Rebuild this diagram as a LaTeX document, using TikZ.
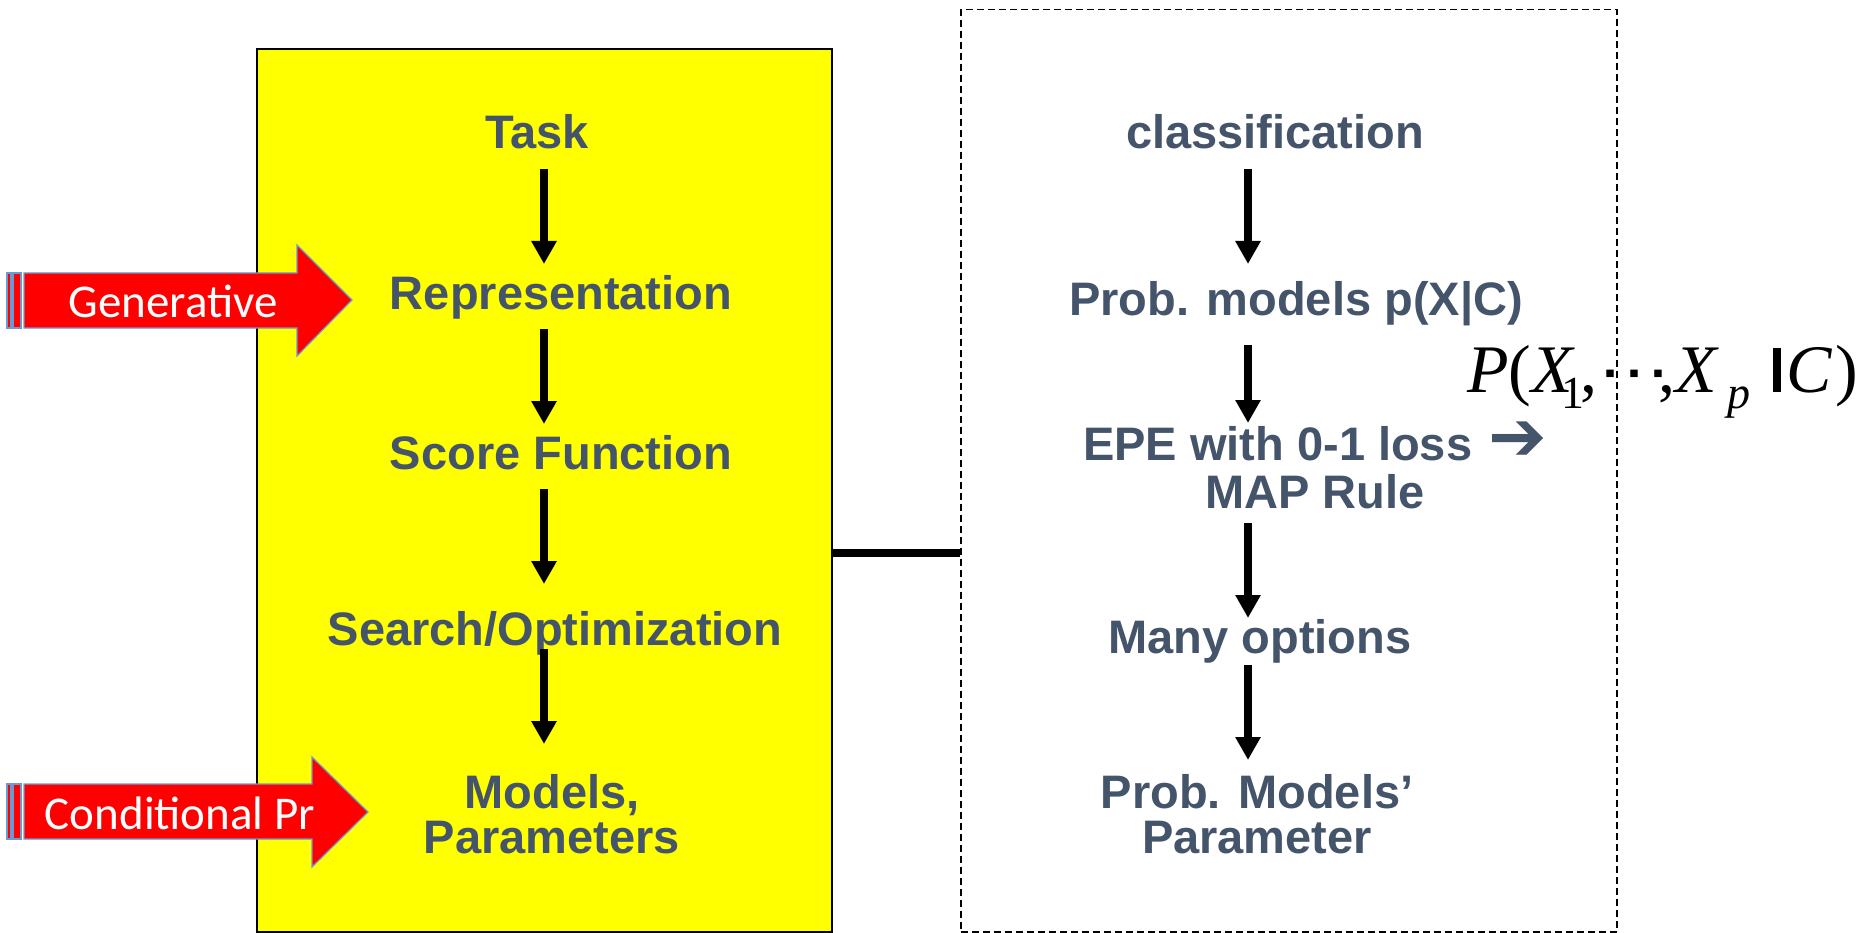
\documentclass[tikz,border=0pt]{standalone}
\usepackage{fontspec}
\setmainfont{Liberation Sans}
\newfontfamily\calfont{Carlito}
\newfontfamily\serfont{Liberation Serif}
\newfontfamily\djfont{DejaVu Sans}
\usetikzlibrary{arrows.meta,calc}
\definecolor{txt}{HTML}{44546A}
\definecolor{arrblue}{HTML}{6A9AD4}
\definecolor{ybg}{RGB}{255,255,0}
\definecolor{rbg}{RGB}{255,0,0}
\begin{document}
\begin{tikzpicture}[x=1pt,y=-1pt,
  lbl/.style={font=\fontsize{47}{45}\selectfont\bfseries, text=txt, inner sep=0pt, anchor=base},
  dn/.style={line width=8pt, -{Triangle[width=24pt,length=23pt]}},
  redarr/.style={fill=rbg, draw=arrblue, line width=1.2pt, line join=miter},
  alab/.style={font=\calfont\fontsize{47}{47}\selectfont, text=white, inner sep=0pt, anchor=base}]
\useasboundingbox (0,0) rectangle (1876,933);

% boxes
\node[draw=black, line width=2pt, fill=ybg, minimum width=575pt, minimum height=883pt,
      anchor=north west, inner sep=0pt] (ybox) at (256,48) {};
\node[draw=black, line width=1.5pt, dash pattern=on 7pt off 4pt, minimum width=656pt,
      minimum height=922pt, anchor=north west, inner sep=0pt] (dbox) at (960,9) {};
\coordinate (jn) at (831,553);
\draw[line width=8pt] (ybox.east |- jn) -- (dbox.west |- jn);

% left column
\node[lbl] (task) at (537,149) {Task};
\node[lbl] (rep) at (561,309) {Representation};
\node[lbl] (score) at (561,469) {Score Function};
\node[lbl] (search) at (555,645) {Search/Optimization};
\node[lbl] (models) at (552,808) {\begin{tabular}[t]{@{}c@{}}Models,\\Parameters\end{tabular}};

\coordinate (ax) at (544,0);
\draw[dn] ($(task.base -| ax)+(0,20)$) -- ($(rep.base -| ax)+(0,-45)$);
\draw[dn] ($(rep.base -| ax)+(0,20)$) -- ($(score.base -| ax)+(0,-45)$);
\draw[dn] ($(score.base -| ax)+(0,20)$) -- ($(search.base -| ax)+(0,-61)$);
\draw[dn] ($(search.base -| ax)+(0,4)$) -- ($(models.base -| ax)+(0,-64)$);

% right column
\node[lbl] (cls) at (1275,149) {classification};
\node[lbl] (prob) at (1296,316) {Prob. models p(X|C)};
\node[lbl] (epe) at (1315,460) {\begin{tabular}[t]{@{}c@{}}EPE with 0-1 loss\kern16pt\raisebox{0pt}[0pt][0pt]{\djfont\fontsize{70}{70}\selectfont ➔}\\[1pt]MAP Rule\end{tabular}};
\node[lbl] (many) at (1260,653) {Many options};
\node[lbl] (pmp) at (1257,808) {\begin{tabular}[t]{@{}c@{}}Prob. Models’\\Parameter\end{tabular}};

\coordinate (bx) at (1248,0);
\draw[dn] ($(cls.base -| bx)+(0,20)$) -- ($(prob.base -| bx)+(0,-52)$);
\draw[dn] ($(prob.base -| bx)+(0,29)$) -- ($(epe.base -| bx)+(0,-37)$);
\draw[dn] ($(epe.base -| bx)+(0,63)$) -- ($(many.base -| bx)+(0,-35)$);
\draw[dn] ($(many.base -| bx)+(0,12)$) -- ($(pmp.base -| bx)+(0,-48)$);

% formula
\node[inner sep=0pt, anchor=base west, font=\serfont\fontsize{68}{68}\selectfont] (form) at (1467,392)
  {\textit{P}(\textit{X}\kern-14pt\raisebox{-16pt}{\fontsize{46}{46}\selectfont 1}\kern-4pt,\kern1pt\scalebox{1.2}[1]{\djfont\fontsize{60}{60}\selectfont ⋯}\kern-12pt,\textit{X}\kern9pt\raisebox{-16pt}{\fontsize{46}{46}\selectfont\textit{p}}\kern22pt\rule{8pt}{44pt}\kern6pt\textit{C}\kern3pt)};

% red striped arrows
\draw[redarr] (7,273) rectangle (11,328);
\draw[redarr] (13,273) rectangle (21,328);
\draw[redarr] (24,273) -- (297,273) -- (297,245) -- (352,300) -- (297,356) -- (297,328) -- (24,328) -- cycle;
\node[alab] (gen) at (173,317) {Generative};

\draw[redarr] (7,784) rectangle (11,839);
\draw[redarr] (13,784) rectangle (21,839);
\draw[redarr] (24,784) -- (312,784) -- (312,757) -- (368,812) -- (312,867) -- (312,839) -- (24,839) -- cycle;
\node[alab] (cond) at (180,829) {Conditional Pr};
\end{tikzpicture}
\end{document}
